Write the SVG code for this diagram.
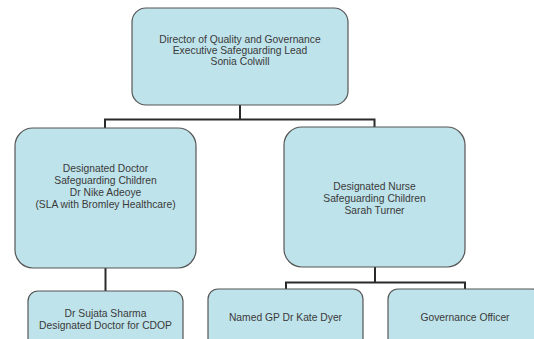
<svg xmlns="http://www.w3.org/2000/svg" width="534" height="339" viewBox="0 0 534 339">
<style>
.box{fill:#bfe3ea;stroke:#555;stroke-width:1.2}
.t{font-family:"Liberation Sans",Arial,sans-serif;font-size:10.3px;fill:#3a3a3a;text-anchor:middle}
.c{fill:none;stroke:#2a2a2a;stroke-width:2}
</style>
<rect width="534" height="339" fill="#fff"/>
<g id="connectors">
<path class="c" d="M240 105V119.5M105 128V119.5H374.5V127"/>
<path class="c" d="M105.5 268V291"/>
<path class="c" d="M375 267V282.5M286 289V282.5H465V289"/>
</g>
<g id="director">
<rect class="box" x="132" y="8" width="216" height="97" rx="14"/>
<text class="t" x="240" y="43">Director of Quality and Governance</text>
<text class="t" x="240" y="54">Executive Safeguarding Lead</text>
<text class="t" x="240" y="65">Sonia Colwill</text>
</g>
<g id="doctor">
<rect class="box" x="15" y="128" width="181" height="140" rx="18"/>
<text class="t" x="105.5" y="172">Designated Doctor</text>
<text class="t" x="105.5" y="184">Safeguarding Children</text>
<text class="t" x="105.5" y="196">Dr Nike Adeoye</text>
<text class="t" x="105.5" y="208">(SLA with Bromley Healthcare)</text>
</g>
<g id="nurse">
<rect class="box" x="284" y="127" width="181" height="140" rx="18"/>
<text class="t" x="374.5" y="190">Designated Nurse</text>
<text class="t" x="374.5" y="202">Safeguarding Children</text>
<text class="t" x="374.5" y="214">Sarah Turner</text>
</g>
<g id="cdop">
<rect class="box" x="28" y="291" width="155" height="60" rx="10"/>
<text class="t" x="105.5" y="317">Dr Sujata Sharma</text>
<text class="t" x="105.5" y="329">Designated Doctor for CDOP</text>
</g>
<g id="gp">
<rect class="box" x="208" y="289" width="155" height="62" rx="10"/>
<text class="t" x="285.5" y="321">Named GP Dr Kate Dyer</text>
</g>
<g id="governance">
<rect class="box" x="388" y="289" width="154" height="62" rx="10"/>
<text class="t" x="465" y="321">Governance Officer</text>
</g>
</svg>
